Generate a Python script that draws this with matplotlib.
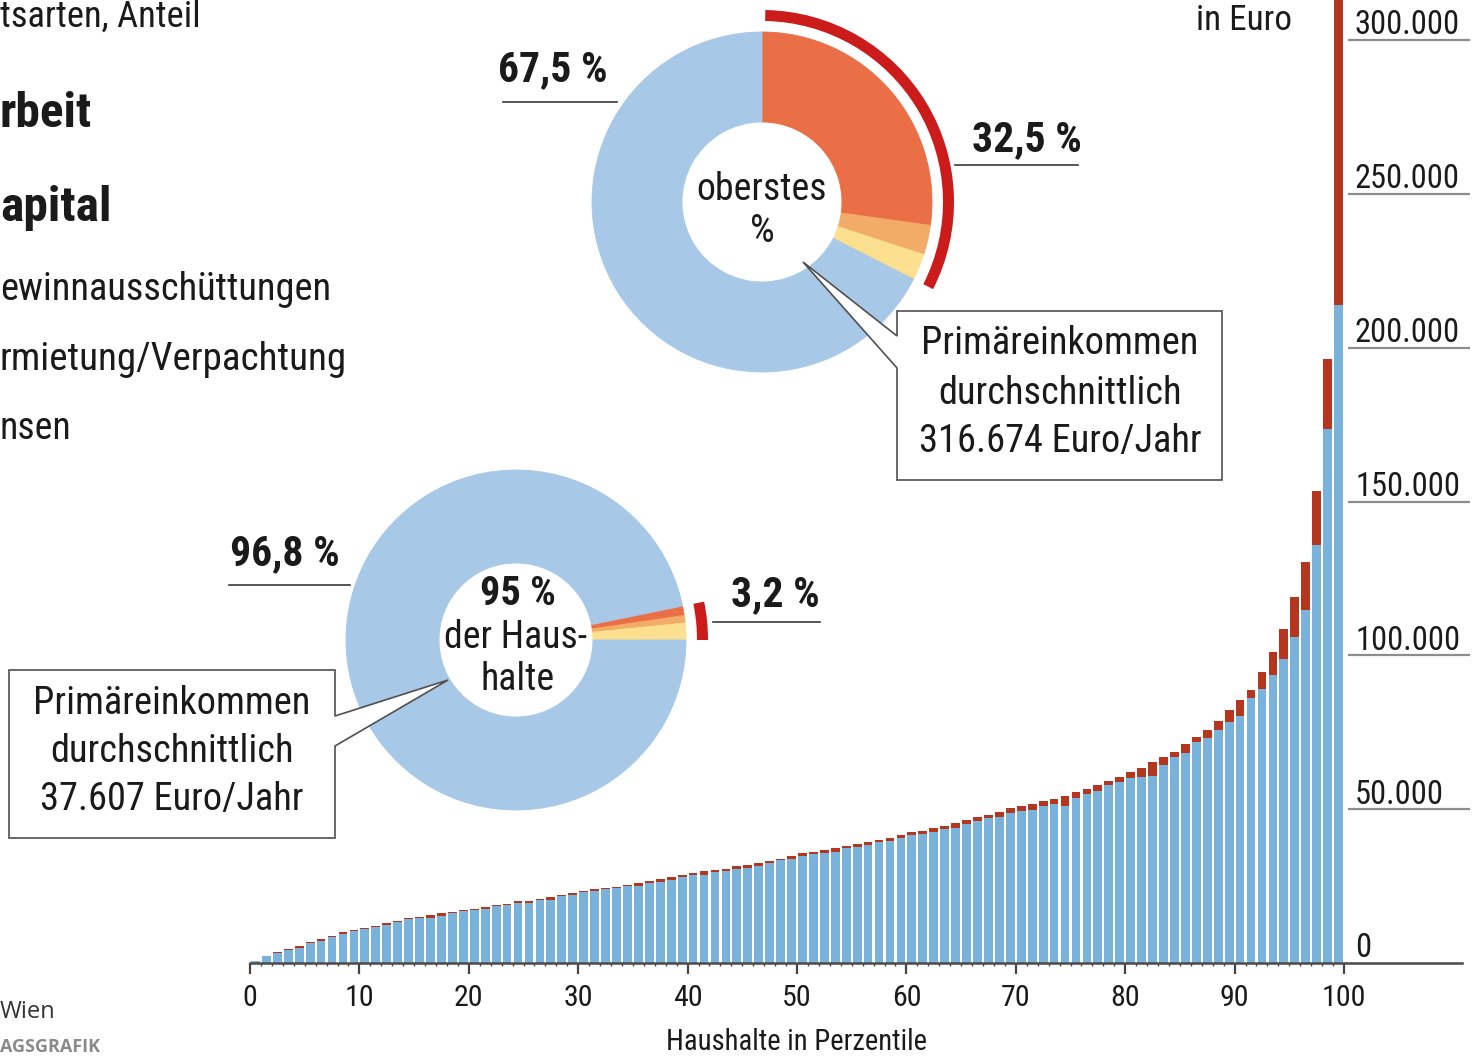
import numpy as np
import matplotlib
matplotlib.use("Agg")
import matplotlib.pyplot as plt
from matplotlib import font_manager as fm
from matplotlib.patches import Wedge, Polygon

# ---------------- data ----------------
percentiles = np.arange(1, 101)

total_income = [
    800, 2400, 3600, 4500, 5500, 6800, 7800, 8800, 10000, 10700,
    11400, 11900, 12900, 13700, 14500, 15000, 15500, 16200, 16700, 17200,
    17700, 18100, 18800, 19200, 20100, 20300, 20800, 21400, 22200, 22900,
    23400, 24000, 24500, 24700, 25400, 26000, 26700, 27300, 27800, 28600,
    29100, 29800, 30200, 30600, 31400, 31800, 32600, 33300, 33900, 34800,
    35600, 36200, 36600, 37300, 38000, 38700, 39200, 40000, 40700, 41500,
    42500, 43000, 43900, 44600, 45400, 46400, 47400, 48200, 49000, 50300,
    50900, 51800, 52500, 53300, 54300, 55500, 56700, 57900, 59300, 60600,
    62000, 63500, 65300, 67100, 68700, 71200, 73600, 75800, 78700, 82300,
    85500, 88800, 94700, 101200, 108600, 118900, 130300, 153400, 196300, 316674,
]

kapital_income = [
    200, 150, 200, 400, 700, 300, 500, 400, 500, 400,
    400, 300, 500, 400, 300, 300, 900, 800, 300, 300,
    400, 500, 300, 500, 600, 900, 300, 900, 500, 700,
    400, 500, 300, 400, 300, 1000, 800, 900, 700, 500,
    600, 1100, 500, 700, 900, 800, 1000, 900, 500, 1000,
    900, 800, 900, 1100, 700, 900, 1000, 800, 1100, 1000,
    1000, 1100, 1200, 1200, 1500, 1300, 1400, 1200, 1500, 1600,
    1500, 2000, 1600, 1500, 3300, 1900, 1700, 2100, 1500, 1800,
    2000, 2900, 4500, 2700, 1600, 2800, 1900, 2700, 2900, 3900,
    5200, 2800, 5500, 7600, 9800, 12900, 15500, 17700, 22800, 102919,
]

arbeit_income = [t - k for t, k in zip(total_income, kapital_income)]

# donut shares in %, clockwise order: Gewinn, Vermietung, Zinsen, Arbeit
donut_parts = ["Gewinnausschüttungen", "Vermietung/Verpachtung", "Zinsen", "Arbeit"]
top1_shares = [27.2, 2.8, 2.5, 67.5]
bottom95_shares = [0.9, 0.7, 1.6, 96.8]
top1_capital = 32.5
bottom95_capital = 3.2

x_ticks = [0, 10, 20, 30, 40, 50, 60, 70, 80, 90, 100]
y_ticks = [0, 50000, 100000, 150000, 200000, 250000, 300000]
y_tick_labels = ["0", "50.000", "100.000", "150.000", "200.000", "250.000", "300.000"]

# ---------------- style ----------------
BAR_BLUE = "#79b3db"
BAR_RED = "#b5361e"
DONUT_COLORS = ["#ea6f47", "#f3ab68", "#fce08f", "#a7c8e6"]
ARC_RED = "#cc1b1b"
TXT = "#1a1a1a"
GRID = "#8c8c8c"

avail = {f.name for f in fm.fontManager.ttflist}
cands = ["Liberation Sans Narrow", "Roboto Condensed", "DejaVu Sans Condensed",
         "Open Sans Condensed", "Noto Sans Condensed", "Noto Sans ExtraCondensed",
         "Noto Sans SemiCondensed", "Liberation Sans", "DejaVu Sans"]
COND = next((n for n in cands if n in avail), "DejaVu Sans")
plt.rcParams["font.family"] = [COND, "DejaVu Sans"]

W, H = 1479, 1056
fig = plt.figure(figsize=(W / 100, H / 100), dpi=100)

# scale font sizes to the available font width
renderer = fig.canvas.get_renderer()
_t = fig.text(0, 0, "Primäreinkommen", fontsize=30)
_w = _t.get_window_extent(renderer).width
_t.remove()
k = min(1.0, 279.0 / _w) ** 0.85


def fs(s):
    return s * k


def Y(y):
    return H - y


# ---------------- bar chart ----------------
PX_X = 10.94
PX_Y = 923 / 6.0  # px per 50000
ax = fig.add_axes([250 / W, (H - 963) / H, 1220 / W, 963 / H])
ax.set_xlim(0, 1220 / PX_X)
ax.set_ylim(0, 963 / PX_Y * 50000)

ax.bar(percentiles - 0.5, arbeit_income, width=0.8, color=BAR_BLUE, linewidth=0, zorder=2)
ax.bar(percentiles - 0.5, kapital_income, bottom=arbeit_income, width=0.8,
       color=BAR_RED, linewidth=0, zorder=2)

for s in ax.spines.values():
    s.set_visible(False)
ax.spines["bottom"].set_visible(True)
ax.spines["bottom"].set_bounds(0, (1462 - 250) / PX_X)
ax.spines["bottom"].set_color("#4a4a4a")
ax.spines["bottom"].set_linewidth(1.8)
ax.spines["bottom"].set_zorder(3)

ax.set_xticks(x_ticks)
ax.set_xticklabels([str(v) for v in x_ticks])
ax.set_xticks(np.arange(0, 101), minor=True)
ax.tick_params(axis="x", which="major", length=8, width=1.6, color="#444444",
               direction="out", pad=7, labelsize=fs(23), labelcolor=TXT)
ax.tick_params(axis="x", which="minor", length=2.5, width=1.0, color="#444444", direction="out")
ax.set_yticks([])
ax.tick_params(axis="y", left=False, labelleft=False)
ax.patch.set_alpha(0)

x_grid0 = (1348 - 250) / PX_X
x_grid1 = (1470 - 250) / PX_X
ax.hlines(y_ticks[1:], x_grid0, x_grid1, color=GRID, linewidth=1.6, zorder=1, clip_on=False)
for v, lab in zip(y_ticks, y_tick_labels):
    ax.annotate(lab, xy=((1355 - 250) / PX_X, v), xytext=(0, 4), textcoords="offset points",
                ha="left", va="baseline", fontsize=fs(25), color=TXT, annotation_clip=False)

# ---------------- overlay (donuts, texts) ----------------
ov = fig.add_axes([0, 0, 1, 1])
ov.patch.set_alpha(0)

# top donut (oberstes %)
c1 = (762, Y(202))
w1, _ = ov.pie(top1_shares, colors=DONUT_COLORS, startangle=90, counterclock=False,
               radius=170, center=c1, wedgeprops=dict(width=90, linewidth=0.6))
for p in w1:
    p.set_edgecolor(p.get_facecolor())
ov.add_patch(Wedge(c1, 192, 90 - 3.6 * top1_capital, 89, width=11,
                   facecolor=ARC_RED, edgecolor="none"))

# bottom donut (95 %)
c2 = (516, Y(640))
w2, _ = ov.pie(bottom95_shares, colors=DONUT_COLORS, startangle=3.6 * bottom95_capital,
               counterclock=False, radius=170, center=c2,
               wedgeprops=dict(width=93, linewidth=0.6))
for p in w2:
    p.set_edgecolor(p.get_facecolor())
ov.add_patch(Wedge(c2, 192, 0, 3.6 * bottom95_capital, width=11,
                   facecolor=ARC_RED, edgecolor="none"))

ov.set_xlim(0, W)
ov.set_ylim(0, H)
ov.set_aspect("auto")
ov.axis("off")


# percent labels with underline
def pct_label(text, cx, cy, x0, x1, ly):
    ov.text(cx, Y(cy), text, ha="center", va="center", fontsize=fs(32),
            fontweight="bold", color=TXT)
    ov.plot([x0, x1], [Y(ly), Y(ly)], color="#3a3a3a", linewidth=1.2)


pct_label(f"{top1_shares[3]:.1f} %".replace(".", ","), 553, 70, 503, 617, 102)
pct_label(f"{top1_capital:.1f} %".replace(".", ","), 1027, 140, 955, 1078, 165)
pct_label(f"{bottom95_shares[3]:.1f} %".replace(".", ","), 285, 554, 229, 350, 585)
pct_label(f"{bottom95_capital:.1f} %".replace(".", ","), 775, 595, 713, 820, 622)

# donut centre texts
ov.text(762, Y(190), "oberstes", ha="center", va="center", fontsize=fs(29), color=TXT)
ov.text(762, Y(232), "%", ha="center", va="center", fontsize=fs(30), color=TXT)
ov.text(518, Y(594), "95 %", ha="center", va="center", fontsize=fs(31),
        fontweight="bold", color=TXT)
ov.text(516, Y(637), "der Haus-", ha="center", va="center", fontsize=fs(29), color=TXT)
ov.text(518, Y(680), "halte", ha="center", va="center", fontsize=fs(29), color=TXT)

# callout boxes
box1 = [(897, 311), (1222, 311), (1222, 480), (897, 480), (897, 368), (803, 262), (897, 336)]
ov.add_patch(Polygon([(x, Y(y)) for x, y in box1], closed=True, facecolor="white",
                     edgecolor="#505050", linewidth=1.2, zorder=5))
for txt, yy in zip(["Primäreinkommen", "durchschnittlich", "316.674 Euro/Jahr"], [343, 393, 441]):
    ov.text(1060, Y(yy), txt, ha="center", va="center", fontsize=fs(29.5), color=TXT, zorder=6)

box2 = [(9, 670), (335, 670), (335, 716), (448, 680), (335, 746), (335, 838), (9, 838)]
ov.add_patch(Polygon([(x, Y(y)) for x, y in box2], closed=True, facecolor="white",
                     edgecolor="#505050", linewidth=1.2, zorder=5))
for txt, yy in zip(["Primäreinkommen", "durchschnittlich", "37.607 Euro/Jahr"], [703, 752, 800]):
    ov.text(172, Y(yy), txt, ha="center", va="center", fontsize=fs(29.5), color=TXT, zorder=6)

# axis texts
ov.text(1292, Y(20), "in Euro", ha="right", va="center", fontsize=fs(27), color=TXT)
ov.text(797, Y(1042), "Haushalte in Perzentile", ha="center", va="center",
        fontsize=fs(22), color=TXT)

# legend (cropped at left edge)
ov.text(0, Y(27), "tsarten, Anteil", ha="left", va="baseline", fontsize=fs(28), color=TXT)
ov.text(0, Y(127), "rbeit", ha="left", va="baseline", fontsize=fs(38), fontweight="bold", color=TXT)
ov.text(0, Y(221), "apital", ha="left", va="baseline", fontsize=fs(38), fontweight="bold", color=TXT)
ov.text(0, Y(300), "ewinnausschüttungen", ha="left", va="baseline", fontsize=fs(29.5), color=TXT)
ov.text(0, Y(370), "rmietung/Verpachtung", ha="left", va="baseline", fontsize=fs(30), color=TXT)
ov.text(0, Y(439), "nsen", ha="left", va="baseline", fontsize=fs(29), color=TXT)

# source
ov.text(0, Y(1018), "Wien", ha="left", va="baseline", fontsize=17, color="#333333",
        family=["Open Sans", "DejaVu Sans"])
ov.text(0, Y(1052), "AGSGRAFIK", ha="left", va="baseline", fontsize=13, fontweight="bold",
        color="#8a8a8a", family=["Open Sans", "DejaVu Sans"])

fig.savefig("out.png", dpi=100, facecolor="white")
